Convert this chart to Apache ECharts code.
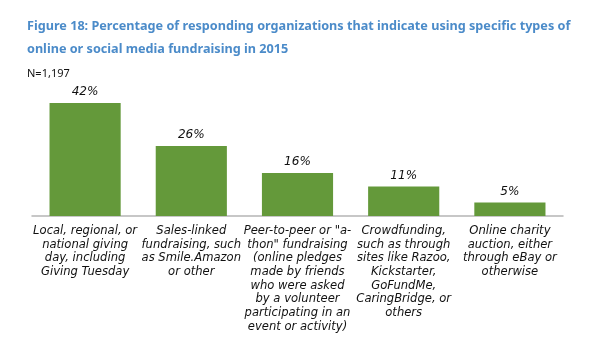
<!DOCTYPE html>
<html><head><meta charset="utf-8">
<script src="https://cdn.jsdelivr.net/npm/echarts@6/dist/echarts.min.js"></script>
<style>html,body{margin:0;padding:0;background:#fff}#c{width:600px;height:350px}</style>
</head><body><div id="c"></div>
<script>
var titleLines = ["Figure 18: Percentage of responding organizations that indicate using specific types of", "online or social media fundraising in 2015"];
var subtitle = "N=1,197";
var categories = [
  "Local, regional, or\nnational giving\nday, including\nGiving Tuesday",
  "Sales-linked\nfundraising, such\nas Smile.Amazon\nor other",
  "Peer-to-peer or \"a-\nthon\" fundraising\n(online pledges\nmade by friends\nwho were asked\nby a volunteer\nparticipating in an\nevent or activity)",
  "Crowdfunding,\nsuch as through\nsites like Razoo,\nKickstarter,\nGoFundMe,\nCaringBridge, or\nothers",
  "Online charity\nauction, either\nthrough eBay or\notherwise"
];
var values = [42, 26, 16, 11, 5];

function fitSize(text, font, target) {
  var ctx = document.createElement('canvas').getContext('2d');
  ctx.font = font.replace('SZ', '100px');
  return 100 * target / ctx.measureText(text).width;
}
var titleFont = 'Noto Sans';
var labelFont = 'DejaVu Sans';
var titleSize = Math.min(14, fitSize(titleLines[0], 'bold SZ "' + titleFont + '"', 544));
var labelSize = Math.min(12, fitSize("Local, regional, or", 'italic SZ "' + labelFont + '"', 104));

var chart = echarts.init(document.getElementById('c'), null, {renderer: 'canvas'});
chart.setOption({
  animation: false,
  title: [
    {text: titleLines.join('\n'), left: 22, top: 10,
     textStyle: {color: '#4b8bc9', fontSize: titleSize, fontWeight: 'bold', fontFamily: titleFont, lineHeight: 23}},
    {text: subtitle, left: 22, top: 63,
     textStyle: {color: '#111', fontSize: 11, fontWeight: 'normal', fontFamily: titleFont}}
  ],
  grid: {left: 32, right: 37, top: 81.5, bottom: 134, containLabel: false},
  xAxis: {
    type: 'category', data: categories,
    axisLine: {lineStyle: {color: '#b5b5b5', width: 1.5}},
    axisTick: {show: false},
    axisLabel: {interval: 0, margin: 8, color: '#111', fontSize: labelSize, fontStyle: 'italic',
      fontFamily: labelFont, lineHeight: 13.7, align: 'center', verticalAlign: 'top'}
  },
  yAxis: {type: 'value', min: 0, max: 50, show: false, splitLine: {show: false}},
  series: [{
    type: 'bar', data: values, barWidth: '67%',
    itemStyle: {color: '#64993a'},
    label: {show: true, position: 'top', distance: 5, formatter: '{c}%', color: '#111',
      fontSize: labelSize + 0.5, fontStyle: 'italic', fontFamily: labelFont}
  }]
});
</script></body></html>
